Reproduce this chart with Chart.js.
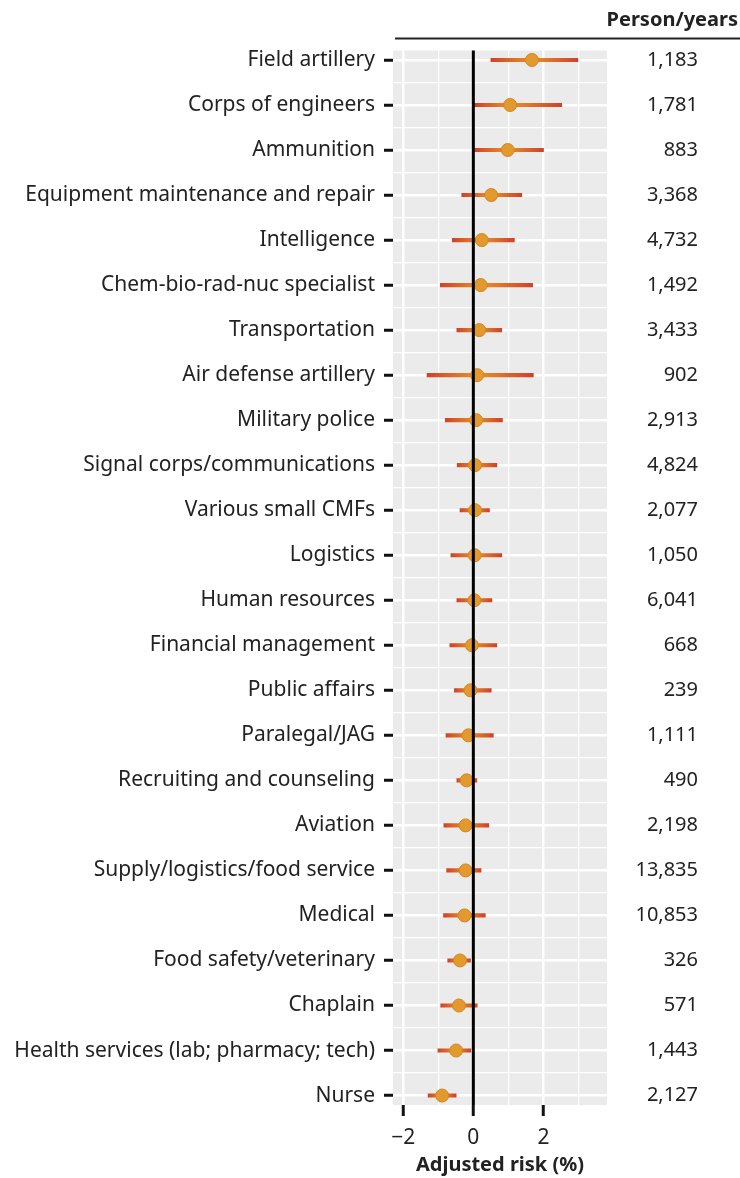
<!DOCTYPE html>
<html>
<head>
<meta charset="utf-8">
<script src="https://cdn.jsdelivr.net/npm/chart.js@4/dist/chart.umd.min.js"></script>
<style>
  html, body { margin: 0; padding: 0; background: #fff; }
  canvas { display: block; }
</style>
</head>
<body>
<canvas id="riskChart" width="740" height="1178"></canvas>
<script>
// occupation groups, top to bottom
const categories = [
    'Field artillery', 'Corps of engineers', 'Ammunition', 'Equipment maintenance and repair',
    'Intelligence', 'Chem-bio-rad-nuc specialist', 'Transportation', 'Air defense artillery',
    'Military police', 'Signal corps/communications', 'Various small CMFs', 'Logistics',
    'Human resources', 'Financial management', 'Public affairs', 'Paralegal/JAG',
    'Recruiting and counseling', 'Aviation', 'Supply/logistics/food service', 'Medical',
    'Food safety/veterinary', 'Chaplain', 'Health services (lab; pharmacy; tech)', 'Nurse'
];
const personYears = [1183, 1781, 883, 3368, 4732, 1492, 3433, 902, 2913, 4824, 2077, 1050,
    6041, 668, 239, 1111, 490, 2198, 13835, 10853, 326, 571, 1443, 2127];

// adjusted risk (%) with interval ends
const risk  = [1.67, 1.05, 0.98, 0.51, 0.24, 0.21, 0.17, 0.11, 0.08, 0.05, 0.05, 0.04,
    0.03, -0.04, -0.08, -0.14, -0.19, -0.22, -0.22, -0.25, -0.38, -0.41, -0.49, -0.89];
const lower = [0.50, 0.03, 0.00, -0.33, -0.60, -0.94, -0.47, -1.32, -0.80, -0.46, -0.38, -0.64,
    -0.47, -0.67, -0.54, -0.78, -0.47, -0.84, -0.76, -0.85, -0.73, -0.93, -1.01, -1.29];
const upper = [2.98, 2.52, 2.00, 1.38, 1.17, 1.69, 0.81, 1.71, 0.83, 0.67, 0.46, 0.81,
    0.53, 0.67, 0.51, 0.57, 0.10, 0.44, 0.22, 0.34, -0.08, 0.11, -0.07, -0.49];

const xMajorTicks = [-2, 0, 2];
const xMinorTicks = [-1, 1, 3];

const FONT = '"Noto Sans", "Open Sans", sans-serif';
const TEXT = '#222';

const rowTicks = [];
categories.forEach((_, i) => {
    rowTicks.push(i);
    if (i < categories.length - 1) rowTicks.push(i + 0.5);
});
const isRow = (v) => Number.isInteger(v);
const isMajorX = (v) => xMajorTicks.includes(v);

const panelBackground = {
    id: 'panelBackground',
    beforeDraw(chart) {
        const { ctx, chartArea: a } = chart;
        ctx.save();
        ctx.fillStyle = '#ebebeb';
        ctx.fillRect(a.left, a.top, a.right - a.left, a.bottom - a.top);
        ctx.restore();
    },
    afterDatasetsDraw(chart) {
        const { ctx, chartArea: a, scales } = chart;
        const x0 = scales.x.getPixelForValue(0);
        ctx.save();
        ctx.strokeStyle = '#000';
        ctx.lineWidth = 3;
        ctx.beginPath();
        ctx.moveTo(x0, a.top);
        ctx.lineTo(x0, a.bottom);
        ctx.stroke();
        ctx.restore();
    },
    afterDraw(chart) {
        // rule under the column header
        const { ctx, chartArea: a } = chart;
        ctx.save();
        ctx.strokeStyle = '#222';
        ctx.lineWidth = 2;
        ctx.beginPath();
        ctx.moveTo(a.left + 2, a.top - 12);
        ctx.lineTo(chart.width, a.top - 12);
        ctx.stroke();
        ctx.restore();
    }
};

const barColor = (context) => {
    if (context.type !== 'data') return '#d9662a';
    const chart = context.chart;
    const xs = chart.scales.x;
    const i = context.dataIndex;
    if (!xs) return '#d9662a';
    const p0 = xs.getPixelForValue(lower[i]);
    const p1 = xs.getPixelForValue(upper[i]);
    if (!isFinite(p0) || !isFinite(p1) || p1 - p0 < 1) return '#d9662a';
    const g = chart.ctx.createLinearGradient(p0, 0, p1, 0);
    let mid = (risk[i] - lower[i]) / (upper[i] - lower[i]);
    mid = Math.min(0.95, Math.max(0.05, mid));
    g.addColorStop(0, '#cf4226');
    g.addColorStop(mid, '#e8922c');
    g.addColorStop(1, '#cf4226');
    return g;
};

const rowAxis = {
    type: 'linear',
    reverse: true,
    min: -0.21,
    max: categories.length - 1 + 0.21,
    offset: false
};

new Chart(document.getElementById('riskChart'), {
    type: 'scatter',
    data: {
        datasets: [
            {
                type: 'bar',
                indexAxis: 'y',
                data: categories.map((c, i) => ({ x: [lower[i], upper[i]], y: i })),
                backgroundColor: barColor,
                borderWidth: 0,
                barThickness: 3.5,
                order: 2
            },
            {
                type: 'scatter',
                data: categories.map((c, i) => ({ x: risk[i], y: i })),
                pointRadius: 6.5,
                pointHoverRadius: 6.5,
                backgroundColor: '#e29a2e',
                borderColor: '#d4851f',
                borderWidth: 1,
                order: 1
            }
        ]
    },
    options: {
        responsive: false,
        animation: false,
        layout: { padding: { left: 0, right: 2, top: 0, bottom: 0 } },
        plugins: {
            legend: { display: false },
            tooltip: { enabled: false },
            title: {
                display: true,
                text: 'Person/years',
                align: 'end',
                color: TEXT,
                font: { family: FONT, size: 20, weight: 'bold', lineHeight: 1.2 },
                padding: { top: 8, bottom: 18.5 }
            }
        },
        scales: {
            x: {
                type: 'linear',
                min: -2.29,
                max: 3.81,
                afterBuildTicks: (s) => { s.ticks = [...xMajorTicks, ...xMinorTicks].sort((a, b) => a - b).map(v => ({ value: v })); },
                afterFit: (s) => { s.height = 73; },
                ticks: {
                    autoSkip: false,
                    maxRotation: 0,
                    padding: 9,
                    color: TEXT,
                    font: { family: FONT, size: 21, lineHeight: 1.2 },
                    callback: (v) => isMajorX(v) ? String(v).replace('-', '\u2212') : ''
                },
                grid: {
                    color: '#fff',
                    lineWidth: (ctx) => isMajorX(ctx.tick && ctx.tick.value) ? 2.5 : 1.2,
                    tickColor: (ctx) => isMajorX(ctx.tick && ctx.tick.value) ? '#111' : 'rgba(0,0,0,0)',
                    tickLength: 11,
                    tickWidth: 3
                },
                border: { display: false },
                title: {
                    display: true,
                    text: 'Adjusted risk (%)',
                    color: TEXT,
                    font: { family: FONT, size: 20, weight: 'bold', lineHeight: 1.2 },
                    padding: { top: 4, bottom: 1 }
                }
            },
            y: {
                ...rowAxis,
                position: 'left',
                afterBuildTicks: (s) => { s.ticks = rowTicks.map(v => ({ value: v })); },
                afterFit: (s) => { s.width = 393; },
                ticks: {
                    autoSkip: false,
                    padding: 9,
                    color: TEXT,
                    font: { family: FONT, size: 21 },
                    callback: (v) => isRow(v) ? categories[v] : ''
                },
                grid: {
                    offset: false,
                    color: '#fff',
                    lineWidth: (ctx) => isRow(ctx.tick && ctx.tick.value) ? 2.5 : 1.2,
                    tickColor: (ctx) => isRow(ctx.tick && ctx.tick.value) ? '#111' : 'rgba(0,0,0,0)',
                    tickLength: 9,
                    tickWidth: 3
                },
                border: { display: false }
            },
            y2: {
                ...rowAxis,
                position: 'right',
                afterBuildTicks: (s) => { s.ticks = categories.map((c, i) => ({ value: i })); },
                afterFit: (s) => {
                    s.width = 131;
                    s.paddingTop = 0;
                    s.paddingBottom = 0;
                },
                ticks: {
                    autoSkip: false,
                    mirror: true,
                    crossAlign: 'near',
                    padding: 91,
                    color: TEXT,
                    font: { family: FONT, size: 20 },
                    callback: (v) => isRow(v) ? personYears[v].toLocaleString('en-US') : ''
                },
                grid: { display: false, drawTicks: false },
                border: { display: false }
            }
        }
    },
    plugins: [panelBackground]
});
</script>
</body>
</html>
